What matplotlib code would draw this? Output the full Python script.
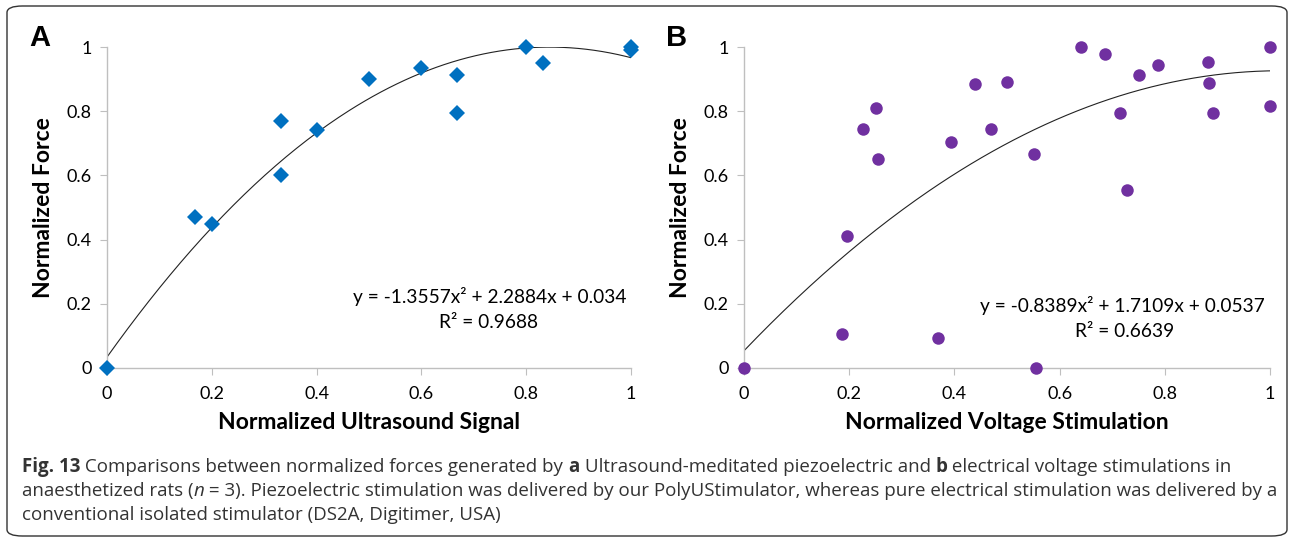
import numpy as np
import matplotlib
matplotlib.use("Agg")
from matplotlib import pyplot as plt
from matplotlib.patches import FancyBboxPatch

# panel A: ultrasound
us_x = [0, 0.167, 0.2, 0.333, 0.333, 0.4, 0.5, 0.6, 0.667, 0.667, 0.8, 0.833, 1.0, 1.0]
us_y = [0, 0.470, 0.449, 0.769, 0.602, 0.741, 0.900, 0.935, 0.912, 0.793, 1.0, 0.950, 1.0, 0.992]
us_coef = [-1.3557, 2.2884, 0.034]
us_eq = "y = -1.3557x² + 2.2884x + 0.034"
us_r2 = "R² = 0.9688"

# panel B: voltage
v_x = [0, 0.186, 0.195, 0.227, 0.250, 0.254, 0.369, 0.393, 0.440, 0.470, 0.500, 0.552, 0.555,
       0.640, 0.686, 0.715, 0.729, 0.750, 0.787, 0.883, 0.884, 0.892, 1.0, 1.0]
v_y = [0, 0.107, 0.410, 0.743, 0.809, 0.652, 0.092, 0.704, 0.886, 0.746, 0.892, 0.666, 0.0,
       1.0, 0.979, 0.794, 0.555, 0.913, 0.944, 0.952, 0.889, 0.794, 1.0, 0.816]
v_coef = [-0.8389, 1.7109, 0.0537]
v_eq = "y = -0.8389x² + 1.7109x + 0.0537"
v_r2 = "R² = 0.6639"

ticks = [0, 0.2, 0.4, 0.6, 0.8, 1]
tick_labels = ["0", "0.2", "0.4", "0.6", "0.8", "1"]

plt.rcParams['font.family'] = ['Lato', 'DejaVu Sans']

W, H = 1292, 542
fig = plt.figure(figsize=(W / 100, H / 100), dpi=100)

border = FancyBboxPatch((7 / W, 6 / H), 1280 / W, 530 / H,
                        boxstyle="round,pad=0,rounding_size=0.012",
                        transform=fig.transFigure, fill=False, ec='#333333', lw=1.0)
fig.patches.append(border)

def panel(rect, xs, ys, coef, eq, r2, marker, color, msize, xlabel, letter, lx, eqpos, r2pos):
    ax = fig.add_axes(rect)
    xx = np.linspace(0, 1, 200)
    ax.plot(xx, np.polyval(coef, xx), color='#222222', lw=0.8, zorder=2)
    ax.plot(xs, ys, linestyle='none', marker=marker, color=color, ms=msize, mew=0,
            zorder=3, clip_on=False)
    ax.set_xlim(0, 1)
    ax.set_ylim(0, 1)
    ax.set_xticks(ticks)
    ax.set_xticklabels(tick_labels)
    ax.set_yticks(ticks)
    ax.set_yticklabels(tick_labels)
    for s in ['top', 'right']:
        ax.spines[s].set_visible(False)
    for s in ['left', 'bottom']:
        ax.spines[s].set_color('#bfbfbf')
        ax.spines[s].set_linewidth(1.0)
    ax.tick_params(axis='both', colors='#bfbfbf', labelcolor='black', labelsize=13,
                   length=5, direction='out')
    ax.tick_params(axis='x', pad=8)
    ax.tick_params(axis='y', pad=6)
    ax.set_xlabel(xlabel, fontsize=16.5, fontweight='bold', labelpad=7)
    ax.set_ylabel("Normalized Force", fontsize=16.5, fontweight='bold', labelpad=9)
    ax.text(eqpos[0], eqpos[1], eq, transform=ax.transAxes, ha='center', va='center',
            fontsize=13.8)
    ax.text(r2pos[0], r2pos[1], r2, transform=ax.transAxes, ha='center', va='center',
            fontsize=13.8)
    fig.text(lx / W, 1 - 38 / H, letter, fontsize=21, fontweight='bold', ha='center',
             va='center', family=['Liberation Sans', 'DejaVu Sans'])
    return ax

panel([107 / W, 1 - 368 / H, 524 / W, 321 / H], us_x, us_y, us_coef, us_eq, us_r2,
      'D', '#0070C0', 8, "Normalized Ultrasound Signal", "A", 40,
      (0.731, 0.224), (0.729, 0.143))
panel([744 / W, 1 - 368 / H, 526 / W, 321 / H], v_x, v_y, v_coef, v_eq, v_r2,
      'o', '#7030A0', 9, "Normalized Voltage Stimulation", "B", 677,
      (0.719, 0.196), (0.724, 0.115))

# caption, drawn run by run
caption = [
    [("Fig. 13", 'bold', 'normal'),
     (" Comparisons between normalized forces generated by ", 'normal', 'normal'),
     ("a", 'bold', 'normal'),
     (" Ultrasound-meditated piezoelectric and ", 'normal', 'normal'),
     ("b", 'bold', 'normal'),
     (" electrical voltage stimulations in", 'normal', 'normal')],
    [("anaesthetized rats (", 'normal', 'normal'),
     ("n", 'normal', 'italic'),
     (" = 3). Piezoelectric stimulation was delivered by our PolyUStimulator, whereas pure electrical stimulation was delivered by a", 'normal', 'normal')],
    [("conventional isolated stimulator (DS2A, Digitimer, USA)", 'normal', 'normal')],
]
cap_y = [467, 491, 515]
fig.canvas.draw()
renderer = fig.canvas.get_renderer()
for runs, yy in zip(caption, cap_y):
    x = 22
    for txt, wt, st in runs:
        t = fig.text(x / W, 1 - yy / H, txt, fontsize=13.5, fontweight=wt, fontstyle=st,
                     va='center', ha='left', color='#333333',
                     family=['Open Sans', 'DejaVu Sans'])
        bb = t.get_window_extent(renderer=renderer)
        x += bb.width

fig.savefig("out.png", dpi=100)
